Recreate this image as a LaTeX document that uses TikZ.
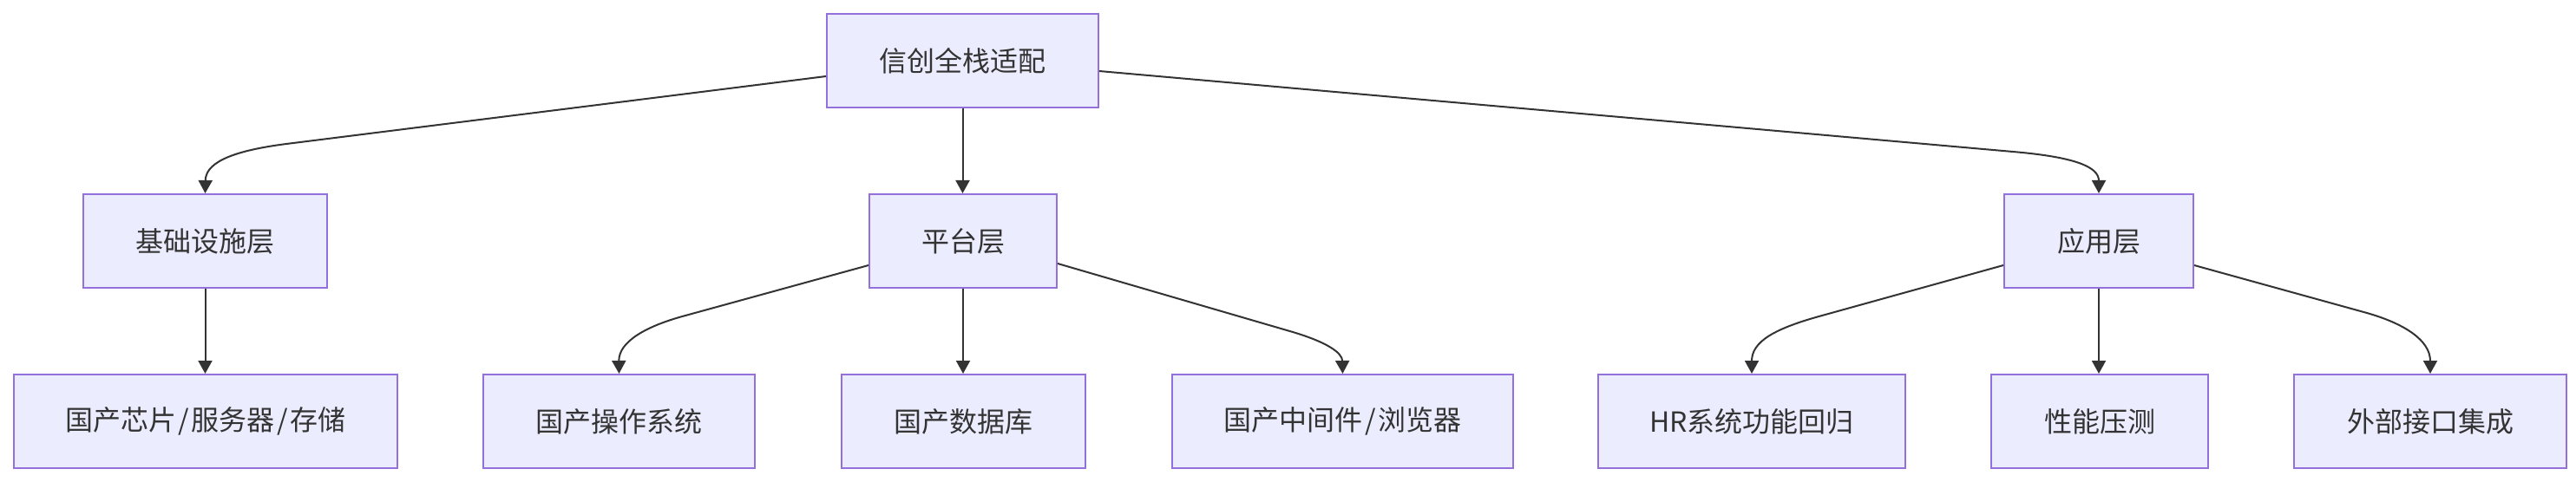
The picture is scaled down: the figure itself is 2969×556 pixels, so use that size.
\documentclass[tikz,border=0pt]{standalone}
\usepackage{fontspec}
\setmainfont{Noto Sans CJK SC}
\usetikzlibrary{arrows.meta}
\definecolor{boxfill}{HTML}{ECECFF}
\definecolor{boxline}{HTML}{9370DB}
\definecolor{edgec}{HTML}{333333}
\definecolor{txt}{HTML}{333333}
\newcommand{\slashsep}{\hspace{2.5pt}/\hspace{2.5pt}}
\begin{document}
\begin{tikzpicture}[x=1pt,y=-1pt,
  box/.style={draw=boxline, fill=boxfill, line width=2pt, inner sep=0pt, text=txt,
              font=\fontsize{32}{38}\selectfont, minimum height=108pt},
  arr/.style={draw=edgec, line width=2pt, -{Triangle[length=15pt,width=16pt]}}]
\useasboundingbox[fill=white] (0,0) rectangle (2969,556);

% level 0
\node[box, minimum width=313pt] (root) at (1109.5,70) {信创全栈适配};
% level 1
\node[box, minimum width=281pt] (infra) at (236.5,278) {基础设施层};
\node[box, minimum width=216pt] (plat) at (1110,278) {平台层};
\node[box, minimum width=218pt] (app) at (2419,278) {应用层};
% level 2
\node[box, minimum width=442pt] (chip) at (237,486) {国产芯片\slashsep 服务器\slashsep 存储};
\node[box, minimum width=313pt] (os) at (713.5,486) {国产操作系统};
\node[box, minimum width=281pt] (db) at (1110.5,486) {国产数据库};
\node[box, minimum width=393pt] (mid) at (1547.5,486) {国产中间件\slashsep 浏览器};
\node[box, minimum width=354pt] (hr) at (2019,486) {HR系统功能回归};
\node[box, minimum width=250pt] (perf) at (2420,486) {性能压测};
\node[box, minimum width=314pt] (ext) at (2801,486) {外部接口集成};

% bend points
\coordinate (k1) at (330,166);
\coordinate (k2) at (2320,175);
\coordinate (k3) at (790,364);
\coordinate (k4) at (1490,383);
\coordinate (k5) at (2100,364);
\coordinate (k6) at (2728,361);

% edges
\draw[arr] ([yshift=-18pt]root.west) -- (k1) .. controls (260,175) and (237,190) .. (infra.north);
\draw[arr] (root.south) -- (root.south |- plat.north);
\draw[arr] ([yshift=-12pt]root.east) -- (k2) .. controls (2390,181) and (2419,192) .. (app.north);

\draw[arr] (infra.south) -- (infra.south |- chip.north);

\draw[arr] ([yshift=-28pt]plat.west) -- (k3) .. controls (745,376) and (713,394) .. (os.north);
\draw[arr] (plat.south) -- (plat.south |- db.north);
\draw[arr] ([yshift=-26pt]plat.east) -- (k4) .. controls (1530,395) and (1547,407) .. (mid.north);

\draw[arr] ([yshift=-28pt]app.west) -- (k5) .. controls (2045,379) and (2019,394) .. (hr.north);
\draw[arr] (app.south) -- (app.south |- perf.north);
\draw[arr] ([yshift=-28pt]app.east) -- (k6) .. controls (2770,373) and (2801,392) .. (ext.north);
\end{tikzpicture}
\end{document}
